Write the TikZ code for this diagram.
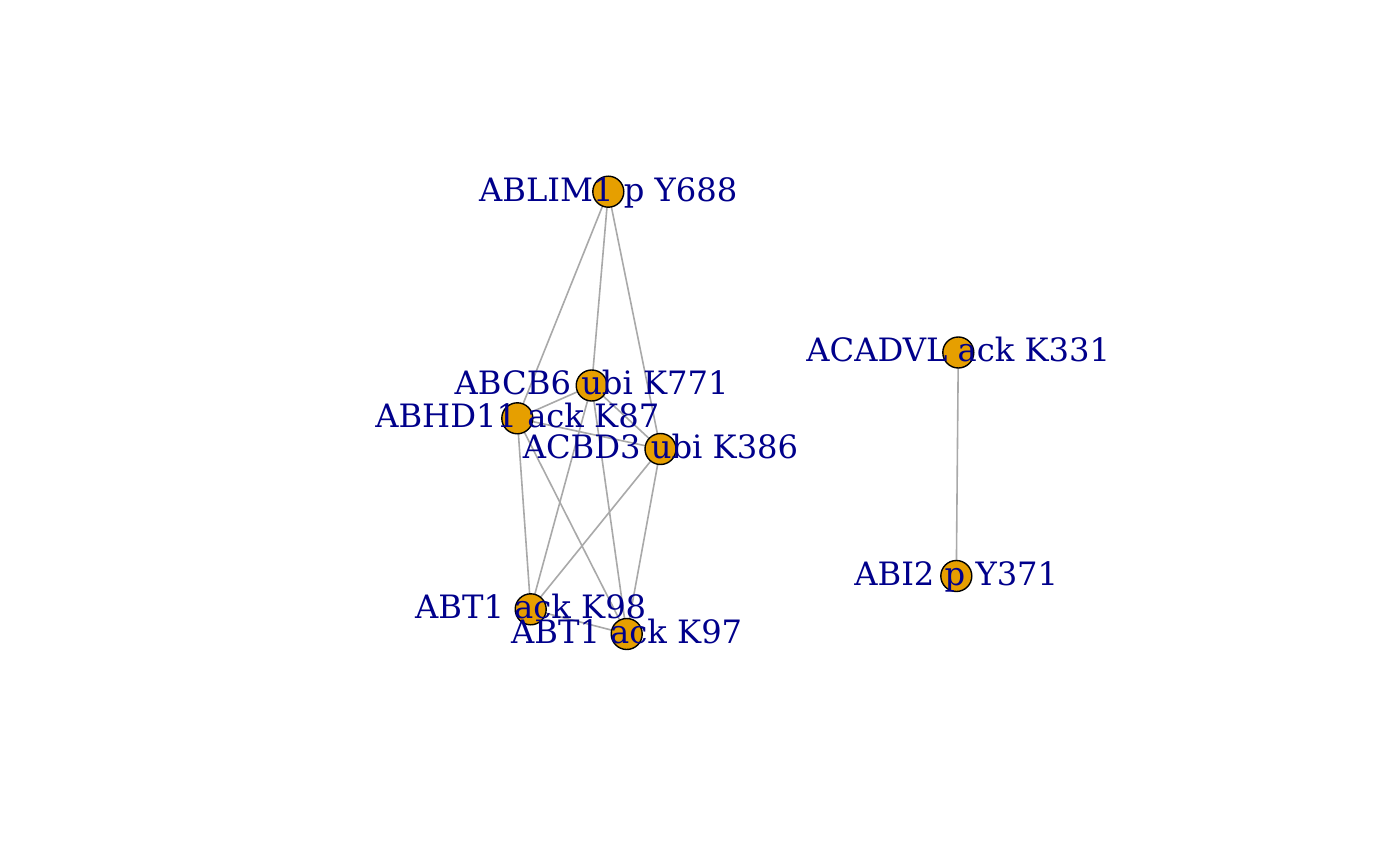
\documentclass[tikz,border=0pt]{standalone}
\usepackage{fontspec}
\setmainfont{DejaVu Serif}
\usetikzlibrary{backgrounds}
\definecolor{vfill}{HTML}{E69F00}
\definecolor{lblue}{HTML}{00008B}
\definecolor{egray}{HTML}{A9A9A9}
\begin{document}
\begin{tikzpicture}[x=1pt,y=-1pt,
  vert/.style={circle,draw=black,fill=vfill,line width=1.4pt,minimum size=31pt,inner sep=0pt},
  edge/.style={draw=egray,line width=1.6pt},
  lbl/.style={anchor=base,inner sep=0pt,text=lblue,font=\fontsize{32.2}{36}\selectfont}]
\useasboundingbox (0,0) rectangle (1400,866);
\node[vert] (A) at (608.3,191.7) {};
\node[vert] (B) at (591.7,385.5) {};
\node[vert] (C) at (517.3,418.3) {};
\node[vert] (D) at (660.5,449) {};
\node[vert] (E) at (530.7,609.3) {};
\node[vert] (F) at (626.7,634) {};
\node[vert] (G) at (958.3,352.5) {};
\node[vert] (H) at (956.3,576) {};
\begin{scope}[on background layer]
\fill[white] (0,0) rectangle (1400,866);
\foreach \u/\v in {A/B,A/C,A/D,B/C,B/D,C/D,C/E,C/F,B/E,B/F,D/E,D/F,E/F,G/H}
  \draw[edge] (\u.center) -- (\v.center);
\end{scope}
\node[lbl] (lA) at ([yshift=-9.5pt]A.center) {ABLIM1 p Y688};
\node[lbl] (lB) at ([yshift=-9.5pt]B.center) {ABCB6 ubi K771};
\node[lbl] (lC) at ([yshift=-9.5pt]C.center) {ABHD11 ack K87};
\node[lbl] (lD) at ([yshift=-9.5pt]D.center) {ACBD3 ubi K386};
\node[lbl] (lE) at ([yshift=-9.5pt]E.center) {ABT1 ack K98};
\node[lbl] (lF) at ([yshift=-9.5pt]F.center) {ABT1 ack K97};
\node[lbl] (lG) at ([yshift=-9.5pt]G.center) {ACADVL ack K331};
\node[lbl] (lH) at ([yshift=-9.5pt]H.center) {ABI2 p Y371};
\end{tikzpicture}
\end{document}
